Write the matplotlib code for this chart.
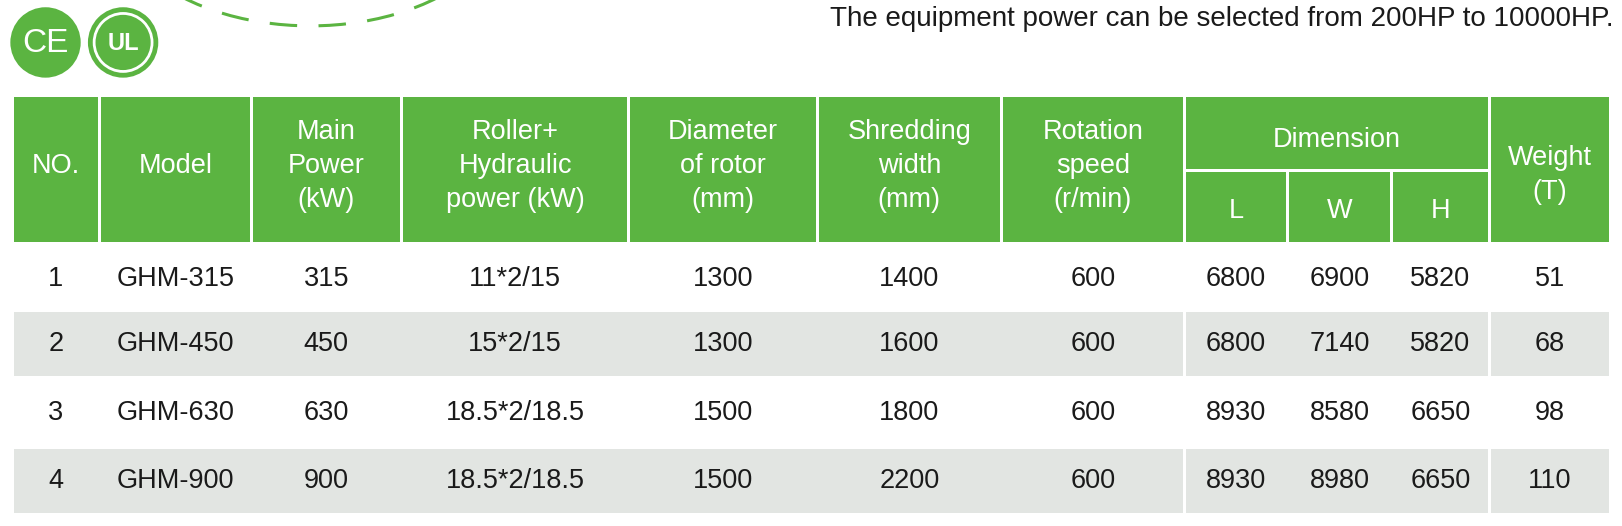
import matplotlib.pyplot as plt
from matplotlib.patches import Rectangle, Circle, Arc

plt.rcParams['font.family'] = ['Liberation Sans', 'DejaVu Sans']

GREEN = '#5bb441'
GRAY = '#e2e5e2'

headers = ['NO.', 'Model', 'Main\nPower\n(kW)', 'Roller+\nHydraulic\npower (kW)',
           'Diameter\nof rotor\n(mm)', 'Shredding\nwidth\n(mm)', 'Rotation\nspeed\n(r/min)']
dim_sub = ['L', 'W', 'H']
weight_header = 'Weight\n(T)'
rows = [
    ['1', 'GHM-315', '315', '11*2/15', '1300', '1400', '600', '6800', '6900', '5820', '51'],
    ['2', 'GHM-450', '450', '15*2/15', '1300', '1600', '600', '6800', '7140', '5820', '68'],
    ['3', 'GHM-630', '630', '18.5*2/18.5', '1500', '1800', '600', '8930', '8580', '6650', '98'],
    ['4', 'GHM-900', '900', '18.5*2/18.5', '1500', '2200', '600', '8930', '8980', '6650', '110'],
]
note = 'The equipment power can be selected from 200HP to 10000HP.'

W, H = 1568, 508
cols = [12, 96, 243, 388, 608, 790, 968, 1145, 1245, 1345, 1440, 1557]
head_top, head_mid, head_bot = 92, 165, 235
row_y = [(237, 298), (300, 365), (367, 430), (432, 497)]
g = 1.5  # half gap

fig = plt.figure(figsize=(16.22, 5.26), dpi=100)
ax = fig.add_axes([0, 0, 1, 1])
ax.set_xlim(0, W)
ax.set_ylim(H, 0)
ax.axis('off')

def cell(x0, x1, y0, y1, color):
    ax.add_patch(Rectangle((x0 + g, y0 + g), x1 - x0 - 2 * g, y1 - y0 - 2 * g,
                           facecolor=color, edgecolor='none'))

fs = 19.5
ls = 1.4
# header cells
for i, h in enumerate(headers):
    cell(cols[i], cols[i + 1], head_top, head_bot, GREEN)
    ax.text((cols[i] + cols[i + 1]) / 2, (head_top + head_bot) / 2 - 3, h, color='white',
            fontsize=fs, ha='center', va='center', linespacing=ls)
cell(cols[7], cols[10], head_top, head_mid, GREEN)
ax.text((cols[7] + cols[10]) / 2, 135, 'Dimension', color='white',
        fontsize=fs, ha='center', va='center')
for j, s in enumerate(dim_sub):
    cell(cols[7 + j], cols[8 + j], head_mid, head_bot, GREEN)
    ax.text((cols[7 + j] + cols[8 + j]) / 2, 204, s, color='white',
            fontsize=fs, ha='center', va='center')
cell(cols[10], cols[11], head_top, head_bot, GREEN)
ax.text((cols[10] + cols[11]) / 2, 169, weight_header, color='white',
        fontsize=fs, ha='center', va='center', linespacing=ls)

# body rows
for r, vals in enumerate(rows):
    y0, y1 = row_y[r]
    if r % 2 == 1:
        cell(cols[0], cols[7], y0, y1, GRAY)
        cell(cols[7], cols[10], y0, y1, GRAY)
        cell(cols[10], cols[11], y0, y1, GRAY)
    yc = (y0 + y1) / 2 + 2 if r == 0 else (y0 + y1) / 2
    for c, v in enumerate(vals):
        ax.text((cols[c] + cols[c + 1]) / 2, yc, v, color='#1a1a1a',
                fontsize=fs, ha='center', va='center')

# note
ax.text(1560, 18, note, fontsize=20, ha='right', va='center', color='#1a1a1a')

# dashed arc
ax.add_patch(Arc((300, -90), 380, 230, theta1=20, theta2=160, color=GREEN,
                 lw=2.2, linestyle=(0, (9, 7))))

# CE / UL marks
ax.add_patch(Circle((44, 41), 34, facecolor=GREEN, edgecolor='none'))
ax.text(44, 42, 'CE', color='white', fontsize=24, ha='center', va='center')
ax.add_patch(Circle((119, 41), 34, facecolor=GREEN, edgecolor='none'))
ax.add_patch(Circle((119, 41), 28, facecolor='none', edgecolor='white', lw=2))
ax.text(119, 42, 'UL', color='white', fontsize=17, fontweight='bold', ha='center', va='center')

fig.savefig('out.png', dpi=100)
